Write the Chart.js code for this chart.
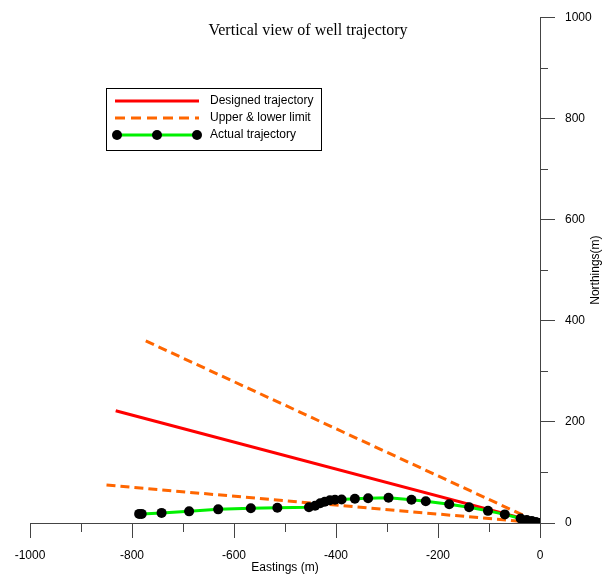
<!DOCTYPE html>
<html>
<head>
<meta charset="utf-8">
<script src="https://cdn.jsdelivr.net/npm/chart.js@4/dist/chart.umd.min.js"></script>
<style>
  html, body { margin: 0; padding: 0; background: #fff; }
  #chartDiv { width: 605px; height: 577px; }
</style>
</head>
<body>
<div id="chartDiv"><canvas id="wellChart" width="605" height="577"></canvas></div>
<script>
// well trajectory data (eastings / northings in m)
var designedE = [-832, 0];
var designedN = [222, 0];
var upperE = [-773, 0];
var upperN = [360, 0];
var lowerE = [-850, 0];
var lowerN = [75, 0];
var actualE = [-786, -781, -742, -688, -631, -567, -515, -453, -441, -431, -422, -412, -402, -389,
               -363, -337, -297, -252, -224, -178, -139, -102, -69, -38, -26, -16, -8, -1];
var actualN = [18, 18, 20, 23, 27, 29, 30, 31, 34, 39, 42, 45, 46, 46.5,
               48, 49, 50, 46, 43, 37, 31, 24, 17, 9, 6, 4, 2, 0];
var xTicks = [-1000, -800, -600, -400, -200, 0];
var yTicks = [0, 200, 400, 600, 800, 1000];
var legendLabels = ["Designed trajectory", "Upper & lower limit", "Actual trajectory"];

var axisColor = '#444';
var red = '#ff0000';
var orange = '#ff6600';
var green = '#00f000';

function toPoints(xs, ys) {
    var pts = [];
    for (var i = 0; i < xs.length; i++) pts.push({x: xs[i], y: ys[i]});
    return pts;
}

function plainLabel(value) {
    return String(value);
}

// short minor ticks between the labelled ones
var minorTicks = {
    id: 'minorTicks',
    afterDraw: function(chart) {
        var ctx = chart.ctx, xs = chart.scales.x, ys = chart.scales.y;
        ctx.save();
        ctx.strokeStyle = axisColor;
        ctx.lineWidth = 1;
        ctx.beginPath();
        for (var v = -900; v < 0; v += 200) {
            var px = Math.round(xs.getPixelForValue(v)) + 0.5;
            ctx.moveTo(px, ys.bottom);
            ctx.lineTo(px, ys.bottom + 9);
        }
        for (var w = 100; w < 1000; w += 200) {
            var py = Math.round(ys.getPixelForValue(w)) + 0.5;
            ctx.moveTo(xs.right, py);
            ctx.lineTo(xs.right + 8, py);
        }
        ctx.stroke();
        ctx.restore();
    }
};

var titles = {
    id: 'titles',
    afterDraw: function(chart) {
        var ctx = chart.ctx, ys = chart.scales.y;
        ctx.save();
        ctx.fillStyle = '#000';
        ctx.textAlign = 'center';
        ctx.textBaseline = 'middle';
        ctx.font = '16px "Liberation Serif"';
        ctx.fillText('Vertical view of well trajectory', 308, 31);
        ctx.translate(596, (ys.top + ys.bottom) / 2);
        ctx.rotate(-Math.PI / 2);
        ctx.font = '12px "Liberation Sans"';
        ctx.fillText('Northings(m)', 0, 0);
        ctx.restore();
    }
};

var boxLegend = {
    id: 'boxLegend',
    afterDraw: function(chart) {
        var ctx = chart.ctx;
        var left = 106, top = 88, w = 215, h = 62;
        var x0 = 115, x1 = 199, rows = [101, 118, 135];
        ctx.save();
        ctx.fillStyle = '#fff';
        ctx.fillRect(left, top, w, h);
        ctx.strokeStyle = '#000';
        ctx.lineWidth = 1;
        ctx.strokeRect(left + 0.5, top + 0.5, w, h);

        ctx.lineWidth = 3;
        ctx.strokeStyle = red;
        ctx.beginPath(); ctx.moveTo(x0, rows[0]); ctx.lineTo(x1, rows[0]); ctx.stroke();

        ctx.strokeStyle = orange;
        ctx.setLineDash([10, 6]);
        ctx.beginPath(); ctx.moveTo(x0, rows[1]); ctx.lineTo(x1, rows[1]); ctx.stroke();
        ctx.setLineDash([]);

        ctx.strokeStyle = green;
        ctx.beginPath(); ctx.moveTo(x0 + 2, rows[2]); ctx.lineTo(x1 - 2, rows[2]); ctx.stroke();
        ctx.fillStyle = '#000';
        [117, 157, 197].forEach(function(cx) {
            ctx.beginPath(); ctx.arc(cx, rows[2], 5, 0, Math.PI * 2); ctx.fill();
        });

        ctx.font = '12px "Liberation Sans"';
        ctx.textAlign = 'left';
        ctx.textBaseline = 'middle';
        for (var i = 0; i < legendLabels.length; i++) {
            ctx.fillText(legendLabels[i], 210, rows[i]);
        }
        ctx.restore();
    }
};

var data = {
    datasets: [{
        label: legendLabels[2],
        data: toPoints(actualE, actualN),
        borderColor: green,
        borderWidth: 3,
        pointRadius: 5,
        pointBackgroundColor: '#000',
        pointBorderColor: '#000',
        pointBorderWidth: 0,
        showLine: true,
        order: 0
    }, {
        label: legendLabels[1],
        data: toPoints(upperE, upperN),
        borderColor: orange,
        borderWidth: 3,
        borderDash: [9, 5],
        pointRadius: 0,
        showLine: true,
        order: 1
    }, {
        label: legendLabels[1],
        data: toPoints(lowerE, lowerN),
        borderColor: orange,
        borderWidth: 3,
        borderDash: [9, 5],
        pointRadius: 0,
        showLine: true,
        order: 1
    }, {
        label: legendLabels[0],
        data: toPoints(designedE, designedN),
        borderColor: red,
        borderWidth: 3,
        pointRadius: 0,
        showLine: true,
        order: 2
    }]
};

var tickFont = {family: 'Liberation Sans', size: 12};

var options = {
    responsive: false,
    animation: false,
    layout: {padding: {left: 30, top: 15, right: 0, bottom: 0}},
    plugins: {legend: {display: false}, tooltip: {enabled: false}},
    scales: {
        x: {
            type: 'linear',
            position: 'bottom',
            min: -1000,
            max: 0,
            afterBuildTicks: function(scale) {
                scale.ticks = xTicks.map(function(v) { return {value: v}; });
            },
            afterFit: function(scale) { scale.height = 54; },
            grid: {drawOnChartArea: false, drawTicks: true, tickLength: 15, color: axisColor},
            border: {display: true, color: axisColor},
            ticks: {color: '#000', font: tickFont, padding: 10, maxRotation: 0, autoSkip: false, callback: plainLabel},
            title: {display: true, text: 'Eastings (m)', color: '#000', font: tickFont, padding: {top: 0, bottom: 2}}
        },
        y: {
            type: 'linear',
            position: 'right',
            min: 0,
            max: 1000,
            afterBuildTicks: function(scale) {
                scale.ticks = yTicks.map(function(v) { return {value: v}; });
            },
            afterFit: function(scale) { scale.width = 65; },
            grid: {drawOnChartArea: false, drawTicks: true, tickLength: 15, color: axisColor},
            border: {display: true, color: axisColor},
            ticks: {color: '#000', font: tickFont, padding: 10, autoSkip: false, callback: plainLabel}
        }
    }
};

var wellChart = new Chart(document.getElementById('wellChart'), {
    type: 'scatter',
    data: data,
    options: options,
    plugins: [minorTicks, titles, boxLegend]
});
</script>
</body>
</html>
